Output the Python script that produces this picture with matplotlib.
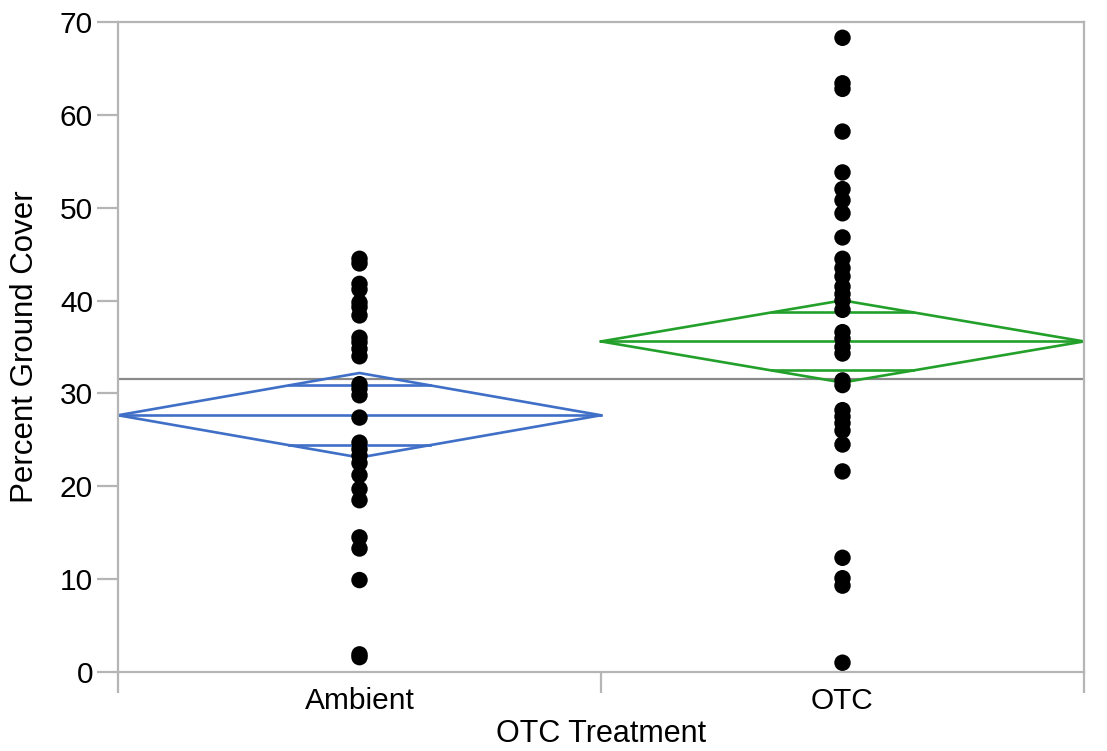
import numpy as np
import matplotlib
matplotlib.use("Agg")
import matplotlib.pyplot as plt

plt.rcParams['font.family'] = ['Liberation Sans', 'DejaVu Sans']

categories = ["Ambient", "OTC"]

ambient_cover = [44.5, 44.0, 41.8, 41.2, 39.8, 39.3, 38.4, 36.0, 35.5, 34.8,
                 34.0, 31.0, 30.5, 29.8, 27.4, 24.7, 24.0, 23.3, 22.5, 21.2,
                 19.7, 18.5, 14.5, 13.3, 9.9, 1.9, 1.6]
otc_cover = [68.3, 63.4, 62.8, 58.2, 53.8, 52.0, 50.8, 49.4, 46.8, 44.5,
             43.5, 42.6, 41.5, 40.7, 40.0, 39.0, 36.6, 35.9, 35.0, 34.3,
             31.4, 30.9, 28.2, 27.5, 26.8, 26.0, 24.5, 21.6, 12.3, 10.1,
             9.3, 1.0]

# means diamonds (group mean and 95% CI) and grand mean
group_mean = [27.65, 35.6]
ci_low = [23.1, 31.15]
ci_high = [32.2, 40.0]
grand_mean = 31.55

diamond_colors = ["#3f6fc6", "#22a02a"]
axis_gray = "#b5b5b5"

fig = plt.figure(figsize=(11.07, 7.51), dpi=100)
ax = fig.add_axes([118 / 1107, 1 - 672 / 751, (1084 - 118) / 1107, (672 - 22) / 751])

ax.axhline(grand_mean, color="#8a8a8a", lw=1.6, zorder=1)

for i, vals in enumerate([ambient_cover, otc_cover]):
    m = group_mean[i]
    h = (ci_high[i] - ci_low[i]) / 2
    x0, x1 = i - 0.5, i + 0.5
    c = diamond_colors[i]
    ax.plot([x0, i, x1, i, x0], [m, m + h, m, m - h, m], color=c, lw=1.9, zorder=2)
    ax.plot([x0, x1], [m, m], color=c, lw=1.9, zorder=2)
    # overlap marks
    d = h / np.sqrt(2)
    hw = 0.5 * (1 - 1 / np.sqrt(2))
    for yy in (m + d, m - d):
        ax.plot([i - hw, i + hw], [yy, yy], color=c, lw=1.9, zorder=2)
    ax.scatter(np.full(len(vals), i), vals, s=140, color="black", zorder=3,
               edgecolors="none")

ax.set_xlim(-0.5, 1.5)
ax.set_ylim(0, 70)
ax.set_yticks(np.arange(0, 71, 10))
ax.set_xticks([-0.5, 0.5, 1.5])
ax.set_xticklabels([])
ax.set_xticks([0, 1], minor=True)
ax.set_xticklabels(categories, minor=True)
ax.tick_params(axis="x", which="minor", length=0, pad=11, labelsize=21.5)
ax.tick_params(axis="x", which="major", length=15, width=1.6, color=axis_gray)
ax.tick_params(axis="y", length=15, width=1.6, color=axis_gray, labelsize=21.5, pad=3)

for sp in ax.spines.values():
    sp.set_color(axis_gray)
    sp.set_linewidth(1.6)

ax.set_xlabel("OTC Treatment", fontsize=22, labelpad=3)
ax.set_ylabel("Percent Ground Cover", fontsize=22.5, labelpad=14)

fig.savefig("out.png", dpi=100)
